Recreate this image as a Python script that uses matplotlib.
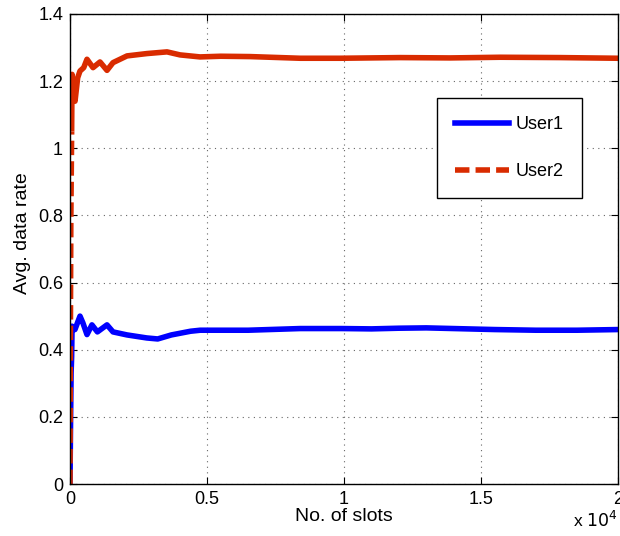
import matplotlib
matplotlib.use("Agg")
import matplotlib.pyplot as plt
from matplotlib.lines import Line2D
from matplotlib.ticker import FuncFormatter, MultipleLocator

plt.rcParams['font.family'] = ['Liberation Sans', 'DejaVu Sans']

# Running average data rate per user vs. number of slots
user1_slots = [0, 20, 40, 60, 75, 180, 365, 470, 620, 800, 1000, 1350, 1570,
               2080, 2800, 3200, 3700, 4400, 4750, 5500, 6500, 8400, 9900,
               11000, 12000, 13000, 14000, 15500, 17000, 18500, 20000]
user1_rate = [0.0, 0.18, 0.33, 0.38, 0.47, 0.46, 0.50, 0.48, 0.445, 0.474,
              0.453, 0.474, 0.453, 0.444, 0.435, 0.432, 0.444, 0.455, 0.458,
              0.458, 0.458, 0.463, 0.463, 0.462, 0.464, 0.465, 0.463, 0.460,
              0.458, 0.458, 0.460]

user2_slots = [0, 15, 30, 60, 75, 120, 183, 280, 365, 500, 620, 840, 1095,
               1350, 1570, 2080, 2810, 3540, 4015, 4745, 5500, 6570, 8400,
               9855, 12045, 13870, 15700, 17885, 20000]
user2_rate = [0.0, 0.45, 0.78, 1.05, 1.22, 1.18, 1.14, 1.21, 1.23, 1.24,
              1.265, 1.24, 1.257, 1.232, 1.255, 1.275, 1.282, 1.287, 1.278,
              1.272, 1.274, 1.273, 1.268, 1.268, 1.270, 1.269, 1.271, 1.270,
              1.268]
n_dashed = 3  # leading points of User2 drawn with the dash pattern visible

blue = '#0000FF'
red = '#D92B00'
lw = 4.0

fig = plt.figure(figsize=(6.2, 5.36), dpi=100)
ax = fig.add_axes([0.1129, 0.097, 0.884, 0.877])

ax.plot(user1_slots, user1_rate, color=blue, lw=lw, solid_capstyle='butt')
ax.plot(user2_slots[:n_dashed + 1], user2_rate[:n_dashed + 1], color=red,
        lw=lw, dashes=(2.6, 1.1))
ax.plot(user2_slots[n_dashed:], user2_rate[n_dashed:], color=red, lw=lw,
        solid_capstyle='butt')

ax.set_xlim(0, 20000)
ax.set_ylim(0, 1.4)
ax.xaxis.set_major_locator(MultipleLocator(5000))
ax.yaxis.set_major_locator(MultipleLocator(0.2))
ax.xaxis.set_major_formatter(FuncFormatter(lambda v, p: f"{v / 1e4:g}"))
ax.yaxis.set_major_formatter(FuncFormatter(lambda v, p: f"{v:g}"))

ax.grid(True, linestyle=(0, (1, 4)), color='#666666', linewidth=0.8)
ax.tick_params(direction='in', top=True, right=True, length=5, width=0.8,
               labelsize=13, pad=5)
for s in ax.spines.values():
    s.set_linewidth(1.0)

ax.set_xlabel('No. of slots', fontsize=14)
ax.set_ylabel('Avg. data rate', fontsize=14)
ax.xaxis.set_label_coords(0.5, -0.052)
ax.yaxis.set_label_coords(-0.072, 0.534)

ax.text(1.0, -0.055, r'x $10^4$', transform=ax.transAxes, ha='right',
        va='top', fontsize=12.5)

handles = [Line2D([], [], color=blue, lw=lw),
           Line2D([], [], color=red, lw=lw, dashes=(2.6, 1.1))]
leg = ax.legend(handles, ['User1', 'User2'], loc='upper left',
                bbox_to_anchor=(0.670, 0.821), fontsize=13,
                handlelength=3.0, labelspacing=1.65, borderpad=1.0,
                handletextpad=0.35, borderaxespad=0, fancybox=False,
                framealpha=1, edgecolor='black')
leg.get_frame().set_linewidth(1.0)

fig.savefig('out.png', dpi=100)
